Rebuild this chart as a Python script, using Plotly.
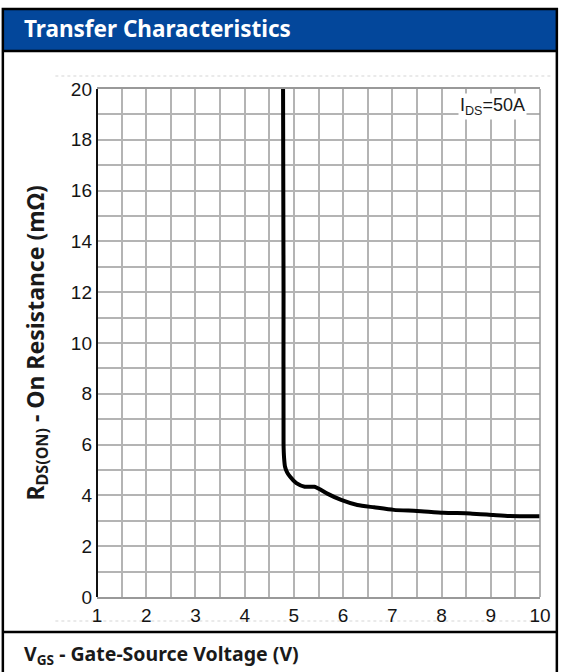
import plotly.graph_objects as go

# ---- data ----
vgs = [4.78, 4.79, 4.79, 4.80, 4.82, 4.86, 4.92, 5.05, 5.22, 5.42, 5.52, 5.69, 5.96,
       6.29, 6.63, 7.03, 7.50, 8.04, 8.58, 9.05, 9.38, 10.0]
rds = [20.0, 12.0, 6.0, 5.5, 5.13, 4.92, 4.74, 4.48, 4.34, 4.34, 4.25, 4.06, 3.82,
       3.62, 3.53, 3.43, 3.39, 3.32, 3.29, 3.23, 3.19, 3.18]
x_ticks = [1, 2, 3, 4, 5, 6, 7, 8, 9, 10]
y_ticks = [0, 2, 4, 6, 8, 10, 12, 14, 16, 18, 20]
title_text = "Transfer Characteristics"
x_title = "V<sub>GS</sub> - Gate-Source Voltage (V)"
y_title = "R<sub>DS(ON)</sub> - On Resistance (mΩ)"
note_text = "I<sub>DS</sub>=50A"

W, H = 563, 672
L, R, T, B = 97, 544, 89, 597


def px(x):
    return (x - L) / (R - L)


def py(y):
    return (B - y) / (B - T)


fig = go.Figure()
fig.add_trace(go.Scatter(x=vgs, y=rds, mode="lines",
                         line=dict(color="#000000", width=4, shape="spline", smoothing=0.6),
                         hoverinfo="skip", showlegend=False))

grid = "#b4b4b4"
tickfont = dict(family="Liberation Sans, Arial", size=19, color="#151515")

fig.update_xaxes(range=[1, 10], tickmode="array", tickvals=x_ticks, ticktext=[str(v) for v in x_ticks],
                 showgrid=True, gridcolor=grid, gridwidth=1.5,
                 minor=dict(dtick=0.5, showgrid=True, gridcolor=grid, gridwidth=1.5),
                 showline=True, linecolor="#999999", linewidth=1.5, mirror=True,
                 zeroline=False, ticks="", tickfont=tickfont, ticklabelstandoff=0)
fig.update_yaxes(range=[0, 20], tickmode="array", tickvals=y_ticks, ticktext=[str(v) for v in y_ticks],
                 showgrid=True, gridcolor=grid, gridwidth=1.5,
                 minor=dict(dtick=1, showgrid=True, gridcolor=grid, gridwidth=1.5),
                 showline=False, zeroline=False, ticks="", tickfont=tickfont, ticklabelstandoff=4)

shapes = []
# plot frame: left black, right gray
shapes.append(dict(type="line", xref="paper", yref="paper", x0=0, x1=0, y0=0, y1=1,
                   line=dict(color="#111111", width=2)))
shapes.append(dict(type="line", xref="paper", yref="paper", x0=1, x1=1, y0=0, y1=1,
                   line=dict(color="#999999", width=1.5)))
# header band
shapes.append(dict(type="rect", xref="paper", yref="paper", x0=px(2), x1=px(561), y0=py(51), y1=py(9),
                   fillcolor="#03479b", line=dict(width=0), layer="below"))
# outer frame
shapes.append(dict(type="rect", xref="paper", yref="paper", x0=px(2), x1=px(561), y0=py(680), y1=py(9),
                   line=dict(color="#000000", width=2.5), layer="above"))
shapes.append(dict(type="line", xref="paper", yref="paper", x0=px(2), x1=px(561), y0=py(51), y1=py(51),
                   line=dict(color="#000000", width=2.5)))
shapes.append(dict(type="line", xref="paper", yref="paper", x0=px(2), x1=px(561), y0=py(632), y1=py(632),
                   line=dict(color="#000000", width=2.5)))
# faint image-edge lines
for yy in (76, 621):
    shapes.append(dict(type="line", xref="paper", yref="paper", x0=px(55), x1=px(556), y0=py(yy), y1=py(yy),
                       line=dict(color="#e4e4e4", width=1.5, dash="dot"), layer="below"))

annotations = [
    dict(text="<b>" + title_text + "</b>", xref="paper", yref="paper", x=px(21), y=py(29),
         xanchor="left", yanchor="middle", showarrow=False,
         font=dict(family="Noto Sans", size=22.5, color="#ffffff")),
    dict(text="<b>" + x_title + "</b>", xref="paper", yref="paper", x=px(21), y=py(654),
         xanchor="left", yanchor="middle", showarrow=False,
         font=dict(family="Noto Sans", size=19.5, color="#1a1a1a")),
    dict(text="<b>" + y_title + "</b>", xref="paper", yref="paper", x=px(35), y=py(343),
         xanchor="center", yanchor="middle", showarrow=False, textangle=-90,
         font=dict(family="Noto Sans", size=23, color="#1a1a1a")),
    dict(text=note_text, xref="x", yref="y", x=9.74, y=19.3,
         xanchor="right", yanchor="middle", showarrow=False, bgcolor="#ffffff", borderpad=1,
         font=dict(family="Liberation Sans, Arial", size=18, color="#1a1a1a")),
]

fig.update_layout(width=W, height=H, margin=dict(l=L, r=W - R, t=T, b=H - B, pad=0),
                  paper_bgcolor="#ffffff", plot_bgcolor="#ffffff",
                  shapes=shapes, annotations=annotations, showlegend=False)

fig.write_html("out.html", config={"displayModeBar": False},
               post_script="document.body.style.margin='0px';document.body.style.overflow='hidden';")
